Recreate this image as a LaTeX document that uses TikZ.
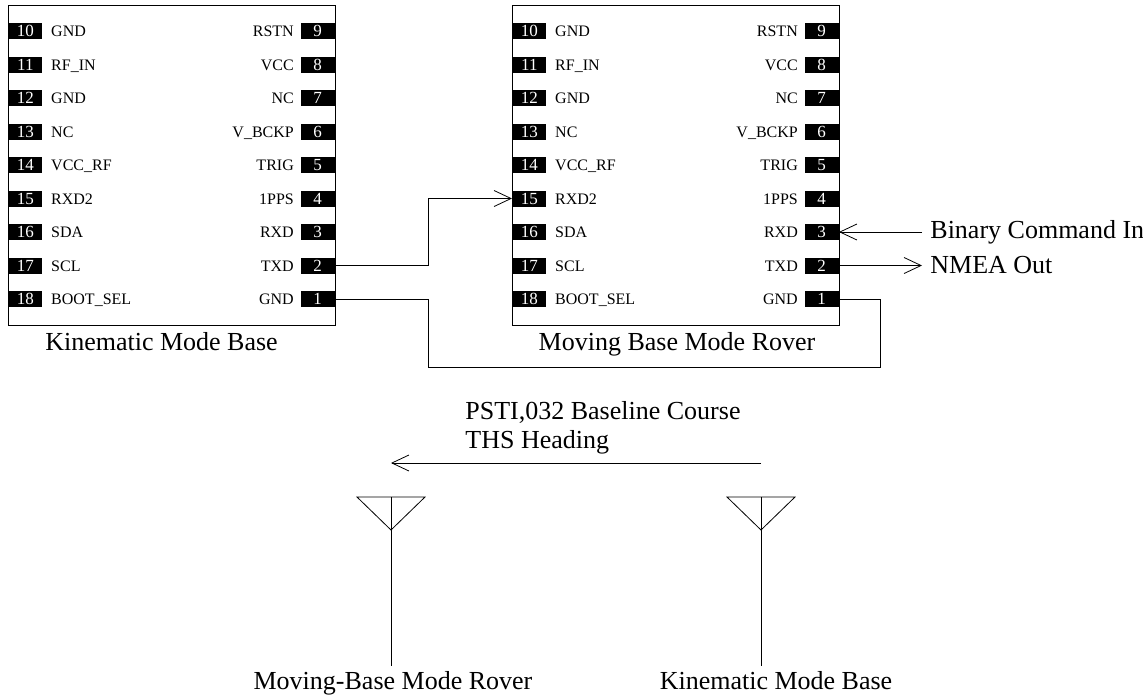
\documentclass[tikz,border=0pt]{standalone}
\usepackage{fontspec}
\setmainfont{Liberation Serif}
\usetikzlibrary{arrows.meta,positioning}

\begin{document}
\begin{tikzpicture}[
    x=1pt, y=-1pt,
    line width=0.8pt,
    chipbox/.style={
      rectangle,
      draw,
      minimum width=327pt,
      minimum height=320pt,
      inner sep=0pt
    },
    pin/.style={
      rectangle,
      fill=black,
      text=white,
      minimum width=34pt,
      minimum height=16pt,
      inner sep=0pt,
      font=\fontsize{17}{17}\selectfont
    },
    pinlabel/.style={inner sep=0pt, font=\fontsize{16}{16}\selectfont},
    caption/.style={inner sep=0pt, font=\fontsize{26}{29}\selectfont},
    tip/.style={-{Straight Barb[length=17pt,width=16pt]}}
  ]
  \useasboundingbox (0,0) rectangle (1143,697);

  % the two receivers
  \foreach \chip/\cx in {kb/8,mb/512} {
    \node[chipbox, anchor=north west] (\chip) at (\cx,5) {};
    \foreach \n/\lab [count=\i from 0] in {10/GND,11/RF\_IN,12/GND,13/NC,14/VCC\_RF,15/RXD2,16/SDA,17/SCL,18/BOOT\_SEL} {
      \node[pin, anchor=west] (\chip-\n) at (\cx,31+33.5*\i) {\n};
      \node[pinlabel, anchor=base west] (\chip-\n-lab) at ([xshift=8pt]\chip-\n.base east) {\lab};
    }
    \foreach \n/\lab [count=\i from 0] in {9/RSTN,8/VCC,7/NC,6/V\_BCKP,5/TRIG,4/1PPS,3/RXD,2/TXD,1/GND} {
      \node[pin, anchor=east] (\chip-\n) at (\cx+327,31+33.5*\i) {\n};
      \node[pinlabel, anchor=base east] (\chip-\n-lab) at ([xshift=-6pt]\chip-\n.base west) {\lab};
    }
  }
  \node[caption, anchor=base] (kb-name) at (161.5,350) {Kinematic Mode Base};
  \node[caption, anchor=base] (mb-name) at (677,350) {Moving Base Mode Rover};

  % wiring
  \draw[tip] (kb-2.east) -- ++(93,0) |- (mb-15.west);
  \draw (kb-1.east) -- ++(93,0) |- (880,367) |- (mb-1.east);

  \node[caption, right=91pt of mb-3] (cmd-in) {Binary Command In};
  \node[caption, right=91pt of mb-2] (nmea-out) {NMEA Out};
  \draw[tip] ([xshift=-8pt]cmd-in.west) -- (mb-3.east);
  \draw[tip] (mb-2.east) -- ([xshift=-8pt]nmea-out.west);

  % antennas
  \coordinate (rover-ant) at (391,497);
  \coordinate (base-ant) at (761,497);
  \node[caption, anchor=base] (rover-lbl) at (393,689) {Moving-Base Mode Rover};
  \node[caption, anchor=base] (base-lbl) at (776,689) {Kinematic Mode Base};
  \foreach \ant/\lbl in {rover-ant/rover-lbl,base-ant/base-lbl} {
    \draw ([xshift=-34pt]\ant) -- ([xshift=34pt]\ant) -- ([yshift=-33pt]\ant) -- cycle;
    \draw[shorten >=5pt] (\ant) -- (\ant |- \lbl.north);
  }

  % baseline message
  \coordinate (course-start) at (761,463);
  \coordinate (course-end) at (391,463);
  \draw[tip] (course-start) -- (course-end);
  \node[caption, anchor=base west] (psti) at (465,419) {PSTI,032 Baseline Course};
  \node[caption, anchor=base west] (ths) at (465,448) {THS Heading};
\end{tikzpicture}
\end{document}
